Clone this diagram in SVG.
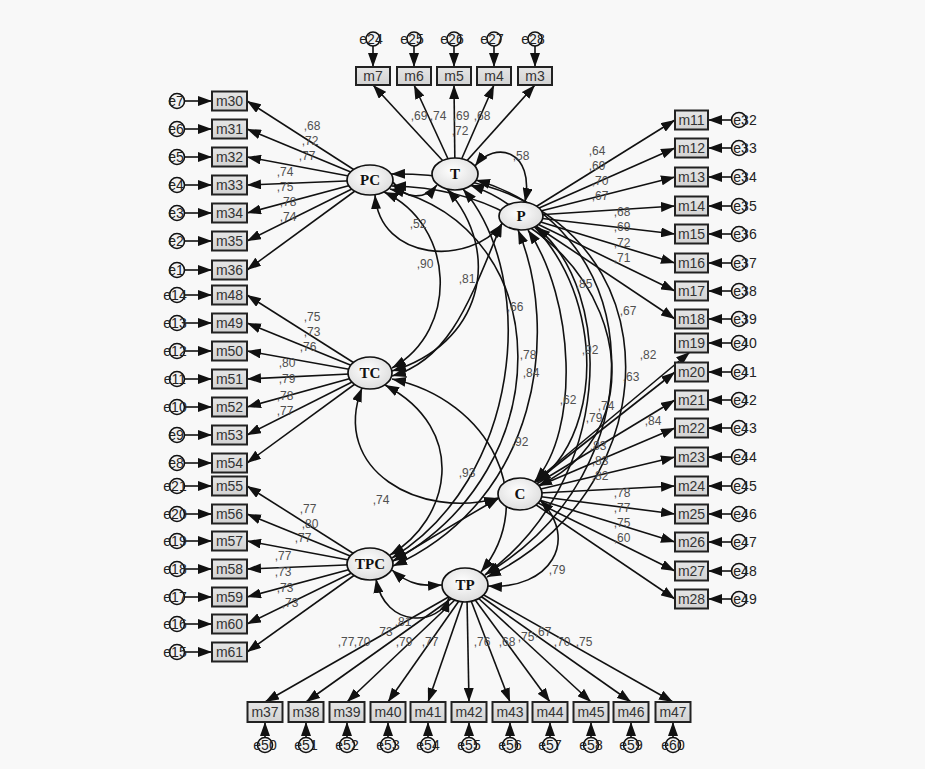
<svg xmlns="http://www.w3.org/2000/svg" width="925" height="769" viewBox="0 0 925 769">
<defs>
<style>
.box{fill:url(#bg);stroke:#222;stroke-width:2}
.bt{font-family:"Liberation Sans",Arial,sans-serif;font-size:14px;fill:#333;text-anchor:middle}
.lat{fill:url(#lg);stroke:#111;stroke-width:1.7}
.lt{font-family:"Liberation Serif","Times New Roman",serif;font-weight:bold;font-size:15px;fill:#111;text-anchor:middle}
.err{fill:#f2f2f2;stroke:#111;stroke-width:1.6}
.et{font-family:"Liberation Sans",Arial,sans-serif;font-size:14px;fill:#222;text-anchor:middle}
.ln{stroke:#111;stroke-width:1.6;fill:none;marker-end:url(#ah)}
.cv{stroke:#111;stroke-width:1.6;fill:none;marker-start:url(#ah);marker-end:url(#ah)}
.lb{font-family:"Liberation Sans",Arial,sans-serif;font-size:12px;fill:#505050;text-anchor:middle}
</style>
<linearGradient id="bg" x1="0" y1="0" x2="0" y2="1"><stop offset="0" stop-color="#e6e6e6"/><stop offset="1" stop-color="#d2d2d2"/></linearGradient>
<radialGradient id="lg" cx="0.45" cy="0.4" r="0.7"><stop offset="0" stop-color="#ffffff"/><stop offset="1" stop-color="#d8d8d8"/></radialGradient>
<marker id="ah" viewBox="0 0 14 10" refX="14" refY="5" markerWidth="14" markerHeight="10" markerUnits="userSpaceOnUse" orient="auto-start-reverse"><path d="M0,0L14,5L0,10z" fill="#111"/></marker>
</defs>
<rect width="925" height="769" fill="#f8f8f8"/>

<g id="connectors">
<line class="ln" x1="455" y1="174" x2="373" y2="85"/>
<line class="ln" x1="455" y1="174" x2="414" y2="85"/>
<line class="ln" x1="455" y1="174" x2="454" y2="85"/>
<line class="ln" x1="455" y1="174" x2="494" y2="85"/>
<line class="ln" x1="455" y1="174" x2="535" y2="85"/>
<line class="ln" x1="370" y1="180" x2="247" y2="101"/>
<line class="ln" x1="370" y1="180" x2="247" y2="129"/>
<line class="ln" x1="370" y1="180" x2="247" y2="157"/>
<line class="ln" x1="370" y1="180" x2="247" y2="185"/>
<line class="ln" x1="370" y1="180" x2="247" y2="213"/>
<line class="ln" x1="370" y1="180" x2="247" y2="241"/>
<line class="ln" x1="370" y1="180" x2="247" y2="270"/>
<line class="ln" x1="370" y1="373" x2="247" y2="295"/>
<line class="ln" x1="370" y1="373" x2="247" y2="323"/>
<line class="ln" x1="370" y1="373" x2="247" y2="351"/>
<line class="ln" x1="370" y1="373" x2="247" y2="379"/>
<line class="ln" x1="370" y1="373" x2="247" y2="407"/>
<line class="ln" x1="370" y1="373" x2="247" y2="435"/>
<line class="ln" x1="370" y1="373" x2="247" y2="463"/>
<line class="ln" x1="370" y1="564" x2="247" y2="486"/>
<line class="ln" x1="370" y1="564" x2="247" y2="514"/>
<line class="ln" x1="370" y1="564" x2="247" y2="541"/>
<line class="ln" x1="370" y1="564" x2="247" y2="569"/>
<line class="ln" x1="370" y1="564" x2="247" y2="597"/>
<line class="ln" x1="370" y1="564" x2="247" y2="624"/>
<line class="ln" x1="370" y1="564" x2="247" y2="652"/>
<line class="ln" x1="521" y1="216" x2="675" y2="120"/>
<line class="ln" x1="521" y1="216" x2="675" y2="148"/>
<line class="ln" x1="521" y1="216" x2="675" y2="177"/>
<line class="ln" x1="521" y1="216" x2="675" y2="206"/>
<line class="ln" x1="521" y1="216" x2="675" y2="234"/>
<line class="ln" x1="521" y1="216" x2="675" y2="263"/>
<line class="ln" x1="521" y1="216" x2="675" y2="291"/>
<line class="ln" x1="521" y1="216" x2="675" y2="319"/>
<line class="ln" x1="520" y1="494" x2="690" y2="352"/>
<line class="ln" x1="520" y1="494" x2="675" y2="372"/>
<line class="ln" x1="520" y1="494" x2="675" y2="400"/>
<line class="ln" x1="520" y1="494" x2="675" y2="428"/>
<line class="ln" x1="520" y1="494" x2="675" y2="457"/>
<line class="ln" x1="520" y1="494" x2="675" y2="486"/>
<line class="ln" x1="520" y1="494" x2="675" y2="514"/>
<line class="ln" x1="520" y1="494" x2="675" y2="542"/>
<line class="ln" x1="520" y1="494" x2="675" y2="571"/>
<line class="ln" x1="520" y1="494" x2="675" y2="599"/>
<line class="ln" x1="452" y1="595" x2="265" y2="702"/>
<line class="ln" x1="455" y1="596" x2="306" y2="702"/>
<line class="ln" x1="458" y1="597" x2="347" y2="702"/>
<line class="ln" x1="461" y1="598" x2="388" y2="702"/>
<line class="ln" x1="464" y1="598" x2="428" y2="702"/>
<line class="ln" x1="467" y1="598" x2="469" y2="702"/>
<line class="ln" x1="470" y1="598" x2="510" y2="702"/>
<line class="ln" x1="473" y1="597" x2="550" y2="702"/>
<line class="ln" x1="476" y1="596" x2="591" y2="702"/>
<line class="ln" x1="479" y1="595" x2="631" y2="702"/>
<line class="ln" x1="482" y1="594" x2="673" y2="702"/>
<path class="cv" d="M393,182 C405,200 425,200 437,185"/>
<path class="cv" d="M375,195 C380,262 470,266 502,224"/>
<path class="cv" d="M384,192 C455,225 460,330 392,368"/>
<path class="cv" d="M392,186 C610,190 680,420 538,486"/>
<path class="cv" d="M390,189 C560,230 560,470 393,561"/>
<path class="cv" d="M391,174 C680,170 690,480 487,577"/>
<path class="cv" d="M475,166 C495,140 535,150 525,202"/>
<path class="cv" d="M447,189 C505,255 480,345 392,371"/>
<path class="cv" d="M470,185 C600,230 620,420 537,482"/>
<path class="cv" d="M463,189 C540,280 520,480 392,558"/>
<path class="cv" d="M476,180 C650,230 660,470 486,574"/>
<path class="cv" d="M502,223 C470,300 450,360 392,376"/>
<path class="cv" d="M528,230 C575,300 580,430 535,481"/>
<path class="cv" d="M518,230 C560,330 540,500 393,566"/>
<path class="cv" d="M536,227 C615,290 615,480 485,575"/>
<path class="cv" d="M362,388 C330,470 420,520 498,498"/>
<path class="cv" d="M385,385 C470,430 450,520 390,555"/>
<path class="cv" d="M392,379 C490,400 540,500 481,572"/>
<path class="cv" d="M499,498 C460,520 420,545 393,561"/>
<path class="cv" d="M540,500 C580,540 550,590 488,586"/>
<path class="cv" d="M376,579 C385,630 440,625 449,598"/>
<path class="cv" d="M392,570 C410,586 425,586 442,585"/>
<line class="ln" x1="373" y1="46" x2="373" y2="67"/>
<line class="ln" x1="414" y1="46" x2="414" y2="67"/>
<line class="ln" x1="454" y1="46" x2="454" y2="67"/>
<line class="ln" x1="494" y1="46" x2="494" y2="67"/>
<line class="ln" x1="535" y1="46" x2="535" y2="67"/>
<line class="ln" x1="184" y1="101" x2="212" y2="101"/>
<line class="ln" x1="184" y1="129" x2="212" y2="129"/>
<line class="ln" x1="184" y1="157" x2="212" y2="157"/>
<line class="ln" x1="184" y1="185" x2="212" y2="185"/>
<line class="ln" x1="184" y1="213" x2="212" y2="213"/>
<line class="ln" x1="184" y1="241" x2="212" y2="241"/>
<line class="ln" x1="184" y1="270" x2="212" y2="270"/>
<line class="ln" x1="184" y1="295" x2="212" y2="295"/>
<line class="ln" x1="184" y1="323" x2="212" y2="323"/>
<line class="ln" x1="184" y1="351" x2="212" y2="351"/>
<line class="ln" x1="184" y1="379" x2="212" y2="379"/>
<line class="ln" x1="184" y1="407" x2="212" y2="407"/>
<line class="ln" x1="184" y1="435" x2="212" y2="435"/>
<line class="ln" x1="184" y1="463" x2="212" y2="463"/>
<line class="ln" x1="184" y1="486" x2="212" y2="486"/>
<line class="ln" x1="184" y1="514" x2="212" y2="514"/>
<line class="ln" x1="184" y1="541" x2="212" y2="541"/>
<line class="ln" x1="184" y1="569" x2="212" y2="569"/>
<line class="ln" x1="184" y1="597" x2="212" y2="597"/>
<line class="ln" x1="184" y1="624" x2="212" y2="624"/>
<line class="ln" x1="184" y1="652" x2="212" y2="652"/>
<line class="ln" x1="732" y1="120" x2="708" y2="120"/>
<line class="ln" x1="732" y1="148" x2="708" y2="148"/>
<line class="ln" x1="732" y1="177" x2="708" y2="177"/>
<line class="ln" x1="732" y1="206" x2="708" y2="206"/>
<line class="ln" x1="732" y1="234" x2="708" y2="234"/>
<line class="ln" x1="732" y1="263" x2="708" y2="263"/>
<line class="ln" x1="732" y1="291" x2="708" y2="291"/>
<line class="ln" x1="732" y1="319" x2="708" y2="319"/>
<line class="ln" x1="732" y1="343" x2="708" y2="343"/>
<line class="ln" x1="732" y1="372" x2="708" y2="372"/>
<line class="ln" x1="732" y1="400" x2="708" y2="400"/>
<line class="ln" x1="732" y1="428" x2="708" y2="428"/>
<line class="ln" x1="732" y1="457" x2="708" y2="457"/>
<line class="ln" x1="732" y1="486" x2="708" y2="486"/>
<line class="ln" x1="732" y1="514" x2="708" y2="514"/>
<line class="ln" x1="732" y1="542" x2="708" y2="542"/>
<line class="ln" x1="732" y1="571" x2="708" y2="571"/>
<line class="ln" x1="732" y1="599" x2="708" y2="599"/>
<line class="ln" x1="265" y1="738" x2="265" y2="722"/>
<line class="ln" x1="306" y1="738" x2="306" y2="722"/>
<line class="ln" x1="347" y1="738" x2="347" y2="722"/>
<line class="ln" x1="388" y1="738" x2="388" y2="722"/>
<line class="ln" x1="428" y1="738" x2="428" y2="722"/>
<line class="ln" x1="469" y1="738" x2="469" y2="722"/>
<line class="ln" x1="510" y1="738" x2="510" y2="722"/>
<line class="ln" x1="550" y1="738" x2="550" y2="722"/>
<line class="ln" x1="591" y1="738" x2="591" y2="722"/>
<line class="ln" x1="631" y1="738" x2="631" y2="722"/>
<line class="ln" x1="673" y1="738" x2="673" y2="722"/>
</g>

<g id="labels">
<text class="lb" x="419" y="120">,69</text><text class="lb" x="438" y="120">,74</text><text class="lb" x="461" y="120">,69</text><text class="lb" x="482" y="120">,68</text><text class="lb" x="460" y="135">,72</text>
<text class="lb" x="312" y="130">,68</text><text class="lb" x="310" y="145">,72</text><text class="lb" x="307" y="160">,77</text><text class="lb" x="285" y="176">,74</text><text class="lb" x="285" y="191">,75</text><text class="lb" x="288" y="206">,78</text><text class="lb" x="288" y="221">,74</text>
<text class="lb" x="312" y="321">,75</text><text class="lb" x="312" y="336">,73</text><text class="lb" x="308" y="351">,76</text><text class="lb" x="287" y="367">,80</text><text class="lb" x="287" y="383">,79</text><text class="lb" x="285" y="400">,78</text><text class="lb" x="285" y="415">,77</text>
<text class="lb" x="308" y="513">,77</text><text class="lb" x="310" y="528">,80</text><text class="lb" x="303" y="542">,77</text><text class="lb" x="283" y="560">,77</text><text class="lb" x="283" y="576">,73</text><text class="lb" x="285" y="592">,73</text><text class="lb" x="290" y="607">,73</text>
<text class="lb" x="597" y="155">,64</text><text class="lb" x="597" y="170">,69</text><text class="lb" x="600" y="185">,70</text><text class="lb" x="600" y="200">,67</text><text class="lb" x="622" y="216">,68</text><text class="lb" x="622" y="231">,69</text><text class="lb" x="622" y="247">,72</text><text class="lb" x="622" y="262">,71</text>
<text class="lb" x="606" y="410">,74</text><text class="lb" x="594" y="422">,79</text><text class="lb" x="653" y="425">,84</text><text class="lb" x="598" y="450">,83</text><text class="lb" x="600" y="465">,83</text><text class="lb" x="600" y="480">,82</text><text class="lb" x="622" y="497">,78</text><text class="lb" x="622" y="512">,77</text><text class="lb" x="622" y="527">,75</text><text class="lb" x="622" y="542">,60</text>
<text class="lb" x="346" y="646">,77</text><text class="lb" x="362" y="646">,70</text><text class="lb" x="386" y="636">73</text><text class="lb" x="404" y="646">,79</text><text class="lb" x="430" y="646">,77</text><text class="lb" x="482" y="646">,76</text><text class="lb" x="507" y="646">,68</text><text class="lb" x="526" y="641">,75</text><text class="lb" x="543" y="636">,67</text><text class="lb" x="562" y="646">,70</text><text class="lb" x="584" y="646">,75</text>
<text class="lb" x="521" y="160">,58</text><text class="lb" x="418" y="228">,52</text><text class="lb" x="425" y="268">,90</text><text class="lb" x="467" y="283">,81</text><text class="lb" x="515" y="311">,66</text><text class="lb" x="584" y="288">,85</text><text class="lb" x="628" y="315">,67</text><text class="lb" x="528" y="359">,78</text><text class="lb" x="531" y="377">,84</text><text class="lb" x="590" y="354">,92</text><text class="lb" x="648" y="359">,82</text><text class="lb" x="631" y="381">,63</text><text class="lb" x="568" y="404">,62</text><text class="lb" x="520" y="446">,92</text><text class="lb" x="467" y="477">,93</text><text class="lb" x="381" y="504">,74</text><text class="lb" x="557" y="574">,79</text><text class="lb" x="403" y="626">,81</text>
</g>

<g id="PC"><ellipse class="lat" cx="370" cy="180" rx="23" ry="15"/><text class="lt" x="370" y="185">PC</text></g>
<g id="T"><ellipse class="lat" cx="455" cy="174" rx="23" ry="16"/><text class="lt" x="455" y="179">T</text></g>
<g id="P"><ellipse class="lat" cx="521" cy="216" rx="22" ry="14"/><text class="lt" x="521" y="221">P</text></g>
<g id="TC"><ellipse class="lat" cx="370" cy="373" rx="22" ry="16"/><text class="lt" x="370" y="378">TC</text></g>
<g id="C"><ellipse class="lat" cx="520" cy="494" rx="22" ry="16"/><text class="lt" x="520" y="499">C</text></g>
<g id="TPC"><ellipse class="lat" cx="370" cy="564" rx="23" ry="16"/><text class="lt" x="370" y="569">TPC</text></g>
<g id="TP"><ellipse class="lat" cx="465" cy="585" rx="23" ry="17"/><text class="lt" x="465" y="590">TP</text></g>

<g id="m7"><rect class="box" x="356" y="67" width="34" height="18"/><text class="bt" x="373" y="81">m7</text></g>
<g id="m6"><rect class="box" x="397" y="67" width="34" height="18"/><text class="bt" x="414" y="81">m6</text></g>
<g id="m5"><rect class="box" x="437" y="67" width="34" height="18"/><text class="bt" x="454" y="81">m5</text></g>
<g id="m4"><rect class="box" x="477" y="67" width="34" height="18"/><text class="bt" x="494" y="81">m4</text></g>
<g id="m3"><rect class="box" x="518" y="67" width="34" height="18"/><text class="bt" x="535" y="81">m3</text></g>
<g id="e24"><circle class="err" cx="373" cy="39" r="7"/><text class="et" x="371" y="44">e24</text></g>
<g id="e25"><circle class="err" cx="414" cy="39" r="7"/><text class="et" x="412" y="44">e25</text></g>
<g id="e26"><circle class="err" cx="454" cy="39" r="7"/><text class="et" x="452" y="44">e26</text></g>
<g id="e27"><circle class="err" cx="494" cy="39" r="7"/><text class="et" x="492" y="44">e27</text></g>
<g id="e28"><circle class="err" cx="535" cy="39" r="7"/><text class="et" x="533" y="44">e28</text></g>

<g id="m30"><rect class="box" x="212" y="91.5" width="35" height="19"/><text class="bt" x="229.5" y="106">m30</text></g>
<g id="m31"><rect class="box" x="212" y="119.5" width="35" height="19"/><text class="bt" x="229.5" y="134">m31</text></g>
<g id="m32"><rect class="box" x="212" y="147.5" width="35" height="19"/><text class="bt" x="229.5" y="162">m32</text></g>
<g id="m33"><rect class="box" x="212" y="175.5" width="35" height="19"/><text class="bt" x="229.5" y="190">m33</text></g>
<g id="m34"><rect class="box" x="212" y="203.5" width="35" height="19"/><text class="bt" x="229.5" y="218">m34</text></g>
<g id="m35"><rect class="box" x="212" y="231.5" width="35" height="19"/><text class="bt" x="229.5" y="246">m35</text></g>
<g id="m36"><rect class="box" x="212" y="260.5" width="35" height="19"/><text class="bt" x="229.5" y="275">m36</text></g>
<g id="m48"><rect class="box" x="212" y="285.5" width="35" height="19"/><text class="bt" x="229.5" y="300">m48</text></g>
<g id="m49"><rect class="box" x="212" y="313.5" width="35" height="19"/><text class="bt" x="229.5" y="328">m49</text></g>
<g id="m50"><rect class="box" x="212" y="341.5" width="35" height="19"/><text class="bt" x="229.5" y="356">m50</text></g>
<g id="m51"><rect class="box" x="212" y="369.5" width="35" height="19"/><text class="bt" x="229.5" y="384">m51</text></g>
<g id="m52"><rect class="box" x="212" y="397.5" width="35" height="19"/><text class="bt" x="229.5" y="412">m52</text></g>
<g id="m53"><rect class="box" x="212" y="425.5" width="35" height="19"/><text class="bt" x="229.5" y="440">m53</text></g>
<g id="m54"><rect class="box" x="212" y="453.5" width="35" height="19"/><text class="bt" x="229.5" y="468">m54</text></g>
<g id="m55"><rect class="box" x="212" y="476.5" width="35" height="19"/><text class="bt" x="229.5" y="491">m55</text></g>
<g id="m56"><rect class="box" x="212" y="504.5" width="35" height="19"/><text class="bt" x="229.5" y="519">m56</text></g>
<g id="m57"><rect class="box" x="212" y="531.5" width="35" height="19"/><text class="bt" x="229.5" y="546">m57</text></g>
<g id="m58"><rect class="box" x="212" y="559.5" width="35" height="19"/><text class="bt" x="229.5" y="574">m58</text></g>
<g id="m59"><rect class="box" x="212" y="587.5" width="35" height="19"/><text class="bt" x="229.5" y="602">m59</text></g>
<g id="m60"><rect class="box" x="212" y="614.5" width="35" height="19"/><text class="bt" x="229.5" y="629">m60</text></g>
<g id="m61"><rect class="box" x="212" y="642.5" width="35" height="19"/><text class="bt" x="229.5" y="657">m61</text></g>

<g id="e7"><circle class="err" cx="177" cy="101" r="7.5"/><text class="et" x="176" y="106">e7</text></g>
<g id="e6"><circle class="err" cx="177" cy="129" r="7.5"/><text class="et" x="176" y="134">e6</text></g>
<g id="e5"><circle class="err" cx="177" cy="157" r="7.5"/><text class="et" x="176" y="162">e5</text></g>
<g id="e4"><circle class="err" cx="177" cy="185" r="7.5"/><text class="et" x="176" y="190">e4</text></g>
<g id="e3"><circle class="err" cx="177" cy="213" r="7.5"/><text class="et" x="176" y="218">e3</text></g>
<g id="e2"><circle class="err" cx="177" cy="241" r="7.5"/><text class="et" x="176" y="246">e2</text></g>
<g id="e1"><circle class="err" cx="177" cy="270" r="7.5"/><text class="et" x="176" y="275">e1</text></g>
<g id="e14"><circle class="err" cx="177" cy="295" r="7.5"/><text class="et" x="175" y="300">e14</text></g>
<g id="e13"><circle class="err" cx="177" cy="323" r="7.5"/><text class="et" x="175" y="328">e13</text></g>
<g id="e12"><circle class="err" cx="177" cy="351" r="7.5"/><text class="et" x="175" y="356">e12</text></g>
<g id="e11"><circle class="err" cx="177" cy="379" r="7.5"/><text class="et" x="175" y="384">e11</text></g>
<g id="e10"><circle class="err" cx="177" cy="407" r="7.5"/><text class="et" x="175" y="412">e10</text></g>
<g id="e9"><circle class="err" cx="177" cy="435" r="7.5"/><text class="et" x="176" y="440">e9</text></g>
<g id="e8"><circle class="err" cx="177" cy="463" r="7.5"/><text class="et" x="176" y="468">e8</text></g>
<g id="e21"><circle class="err" cx="177" cy="486" r="7.5"/><text class="et" x="175" y="491">e21</text></g>
<g id="e20"><circle class="err" cx="177" cy="514" r="7.5"/><text class="et" x="175" y="519">e20</text></g>
<g id="e19"><circle class="err" cx="177" cy="541" r="7.5"/><text class="et" x="175" y="546">e19</text></g>
<g id="e18"><circle class="err" cx="177" cy="569" r="7.5"/><text class="et" x="175" y="574">e18</text></g>
<g id="e17"><circle class="err" cx="177" cy="597" r="7.5"/><text class="et" x="175" y="602">e17</text></g>
<g id="e16"><circle class="err" cx="177" cy="624" r="7.5"/><text class="et" x="175" y="629">e16</text></g>
<g id="e15"><circle class="err" cx="177" cy="652" r="7.5"/><text class="et" x="175" y="657">e15</text></g>

<g id="m11"><rect class="box" x="675" y="110.5" width="33" height="19"/><text class="bt" x="691.5" y="125">m11</text></g>
<g id="m12"><rect class="box" x="675" y="138.5" width="33" height="19"/><text class="bt" x="691.5" y="153">m12</text></g>
<g id="m13"><rect class="box" x="675" y="167.5" width="33" height="19"/><text class="bt" x="691.5" y="182">m13</text></g>
<g id="m14"><rect class="box" x="675" y="196.5" width="33" height="19"/><text class="bt" x="691.5" y="211">m14</text></g>
<g id="m15"><rect class="box" x="675" y="224.5" width="33" height="19"/><text class="bt" x="691.5" y="239">m15</text></g>
<g id="m16"><rect class="box" x="675" y="253.5" width="33" height="19"/><text class="bt" x="691.5" y="268">m16</text></g>
<g id="m17"><rect class="box" x="675" y="281.5" width="33" height="19"/><text class="bt" x="691.5" y="296">m17</text></g>
<g id="m18"><rect class="box" x="675" y="309.5" width="33" height="19"/><text class="bt" x="691.5" y="324">m18</text></g>
<g id="m19"><rect class="box" x="675" y="333.5" width="33" height="19"/><text class="bt" x="691.5" y="348">m19</text></g>
<g id="m20"><rect class="box" x="675" y="362.5" width="33" height="19"/><text class="bt" x="691.5" y="377">m20</text></g>
<g id="m21"><rect class="box" x="675" y="390.5" width="33" height="19"/><text class="bt" x="691.5" y="405">m21</text></g>
<g id="m22"><rect class="box" x="675" y="418.5" width="33" height="19"/><text class="bt" x="691.5" y="433">m22</text></g>
<g id="m23"><rect class="box" x="675" y="447.5" width="33" height="19"/><text class="bt" x="691.5" y="462">m23</text></g>
<g id="m24"><rect class="box" x="675" y="476.5" width="33" height="19"/><text class="bt" x="691.5" y="491">m24</text></g>
<g id="m25"><rect class="box" x="675" y="504.5" width="33" height="19"/><text class="bt" x="691.5" y="519">m25</text></g>
<g id="m26"><rect class="box" x="675" y="532.5" width="33" height="19"/><text class="bt" x="691.5" y="547">m26</text></g>
<g id="m27"><rect class="box" x="675" y="561.5" width="33" height="19"/><text class="bt" x="691.5" y="576">m27</text></g>
<g id="m28"><rect class="box" x="675" y="589.5" width="33" height="19"/><text class="bt" x="691.5" y="604">m28</text></g>

<g id="e32"><circle class="err" cx="739" cy="120" r="7.5"/><text class="et" x="745" y="125">e32</text></g>
<g id="e33"><circle class="err" cx="739" cy="148" r="7.5"/><text class="et" x="745" y="153">e33</text></g>
<g id="e34"><circle class="err" cx="739" cy="177" r="7.5"/><text class="et" x="745" y="182">e34</text></g>
<g id="e35"><circle class="err" cx="739" cy="206" r="7.5"/><text class="et" x="745" y="211">e35</text></g>
<g id="e36"><circle class="err" cx="739" cy="234" r="7.5"/><text class="et" x="745" y="239">e36</text></g>
<g id="e37"><circle class="err" cx="739" cy="263" r="7.5"/><text class="et" x="745" y="268">e37</text></g>
<g id="e38"><circle class="err" cx="739" cy="291" r="7.5"/><text class="et" x="745" y="296">e38</text></g>
<g id="e39"><circle class="err" cx="739" cy="319" r="7.5"/><text class="et" x="745" y="324">e39</text></g>
<g id="e40"><circle class="err" cx="739" cy="343" r="7.5"/><text class="et" x="745" y="348">e40</text></g>
<g id="e41"><circle class="err" cx="739" cy="372" r="7.5"/><text class="et" x="745" y="377">e41</text></g>
<g id="e42"><circle class="err" cx="739" cy="400" r="7.5"/><text class="et" x="745" y="405">e42</text></g>
<g id="e43"><circle class="err" cx="739" cy="428" r="7.5"/><text class="et" x="745" y="433">e43</text></g>
<g id="e44"><circle class="err" cx="739" cy="457" r="7.5"/><text class="et" x="745" y="462">e44</text></g>
<g id="e45"><circle class="err" cx="739" cy="486" r="7.5"/><text class="et" x="745" y="491">e45</text></g>
<g id="e46"><circle class="err" cx="739" cy="514" r="7.5"/><text class="et" x="745" y="519">e46</text></g>
<g id="e47"><circle class="err" cx="739" cy="542" r="7.5"/><text class="et" x="745" y="547">e47</text></g>
<g id="e48"><circle class="err" cx="739" cy="571" r="7.5"/><text class="et" x="745" y="576">e48</text></g>
<g id="e49"><circle class="err" cx="739" cy="599" r="7.5"/><text class="et" x="745" y="604">e49</text></g>

<g id="m37"><rect class="box" x="247.5" y="702" width="35" height="20"/><text class="bt" x="265" y="717">m37</text></g>
<g id="m38"><rect class="box" x="288.5" y="702" width="35" height="20"/><text class="bt" x="306" y="717">m38</text></g>
<g id="m39"><rect class="box" x="329.5" y="702" width="35" height="20"/><text class="bt" x="347" y="717">m39</text></g>
<g id="m40"><rect class="box" x="370.5" y="702" width="35" height="20"/><text class="bt" x="388" y="717">m40</text></g>
<g id="m41"><rect class="box" x="410.5" y="702" width="35" height="20"/><text class="bt" x="428" y="717">m41</text></g>
<g id="m42"><rect class="box" x="451.5" y="702" width="35" height="20"/><text class="bt" x="469" y="717">m42</text></g>
<g id="m43"><rect class="box" x="492.5" y="702" width="35" height="20"/><text class="bt" x="510" y="717">m43</text></g>
<g id="m44"><rect class="box" x="532.5" y="702" width="35" height="20"/><text class="bt" x="550" y="717">m44</text></g>
<g id="m45"><rect class="box" x="573.5" y="702" width="35" height="20"/><text class="bt" x="591" y="717">m45</text></g>
<g id="m46"><rect class="box" x="613.5" y="702" width="35" height="20"/><text class="bt" x="631" y="717">m46</text></g>
<g id="m47"><rect class="box" x="655.5" y="702" width="35" height="20"/><text class="bt" x="673" y="717">m47</text></g>

<g id="e50"><circle class="err" cx="265" cy="745" r="7.5"/><text class="et" x="265" y="750">e50</text></g>
<g id="e51"><circle class="err" cx="306" cy="745" r="7.5"/><text class="et" x="306" y="750">e51</text></g>
<g id="e52"><circle class="err" cx="347" cy="745" r="7.5"/><text class="et" x="347" y="750">e52</text></g>
<g id="e53"><circle class="err" cx="388" cy="745" r="7.5"/><text class="et" x="388" y="750">e53</text></g>
<g id="e54"><circle class="err" cx="428" cy="745" r="7.5"/><text class="et" x="428" y="750">e54</text></g>
<g id="e55"><circle class="err" cx="469" cy="745" r="7.5"/><text class="et" x="469" y="750">e55</text></g>
<g id="e56"><circle class="err" cx="510" cy="745" r="7.5"/><text class="et" x="510" y="750">e56</text></g>
<g id="e57"><circle class="err" cx="550" cy="745" r="7.5"/><text class="et" x="550" y="750">e57</text></g>
<g id="e58"><circle class="err" cx="591" cy="745" r="7.5"/><text class="et" x="591" y="750">e58</text></g>
<g id="e59"><circle class="err" cx="631" cy="745" r="7.5"/><text class="et" x="631" y="750">e59</text></g>
<g id="e60"><circle class="err" cx="673" cy="745" r="7.5"/><text class="et" x="673" y="750">e60</text></g>
</svg>
